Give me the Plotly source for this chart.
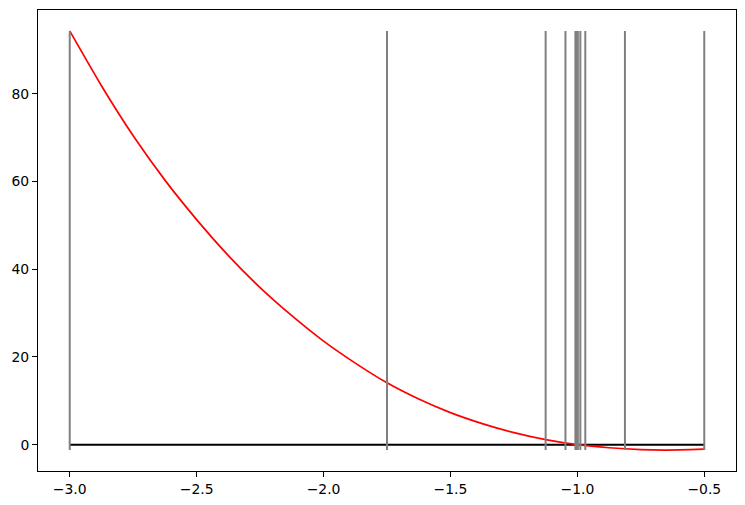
import plotly.graph_objects as go

# Curve
curve_x = [-3.0, -2.875, -2.75, -2.625, -2.5, -2.375, -2.25, -2.125, -2.0, -1.875, -1.75,
           -1.625, -1.5, -1.375, -1.25, -1.125, -1.0, -0.875, -0.75, -0.65, -0.5]
curve_y = [94.3, 81.8, 70.4, 60.3, 51.3, 43.1, 35.8, 29.4, 23.6, 18.6, 14.1,
           10.4, 7.3, 4.8, 2.75, 1.15, 0.0, -0.7, -1.12, -1.22, -1.02]

# Bisection midpoints (vertical markers)
marks = [-3.0, -0.5, -1.75, -1.125, -0.8125, -0.96875, -1.046875, -1.0078125,
         -0.98828125, -0.998046875, -1.0029296875, -1.00048828125]

xticks = [-3.0, -2.5, -2.0, -1.5, -1.0, -0.5]
yticks = [0, 20, 40, 60, 80]

ylo, yhi = min(curve_y), max(curve_y)

vx, vy = [], []
for m in marks:
    vx += [m, m, None]
    vy += [ylo, yhi, None]

fig = go.Figure()
fig.add_trace(go.Scatter(x=[curve_x[0], curve_x[-1]], y=[0, 0], mode="lines",
                         line=dict(color="black", width=2), hoverinfo="skip"))
fig.add_trace(go.Scatter(x=curve_x, y=curve_y, mode="lines",
                         line=dict(color="red", width=1.7, shape="spline", smoothing=0.6)))
fig.add_trace(go.Scatter(x=vx, y=vy, mode="lines",
                         line=dict(color="gray", width=2)))

span_y = yhi - ylo
span_x = curve_x[-1] - curve_x[0]
axis_common = dict(showline=True, linecolor="black", linewidth=1, mirror=True,
                   ticks="outside", ticklen=5, tickwidth=1, tickcolor="black",
                   showgrid=False, zeroline=False, automargin=False,
                   tickfont=dict(family="DejaVu Sans", size=13.9, color="black"))
fig.update_xaxes(range=[curve_x[0] - 0.05 * span_x, curve_x[-1] + 0.05 * span_x],
                 tickvals=xticks,
                 ticktext=[("\u2212" if t < 0 else "") + f"{abs(t):.1f}" for t in xticks],
                 **axis_common)
fig.update_yaxes(range=[ylo - 0.05 * span_y, yhi + 0.05 * span_y],
                 tickvals=yticks, ticktext=[str(t) for t in yticks], **axis_common)
fig.update_layout(width=745, height=505, showlegend=False,
                  margin=dict(l=38, r=9, t=10, b=34),
                  plot_bgcolor="white", paper_bgcolor="white")
fig.write_html("out.html", config={"displayModeBar": False},
               post_script="document.body.style.margin='0';")
